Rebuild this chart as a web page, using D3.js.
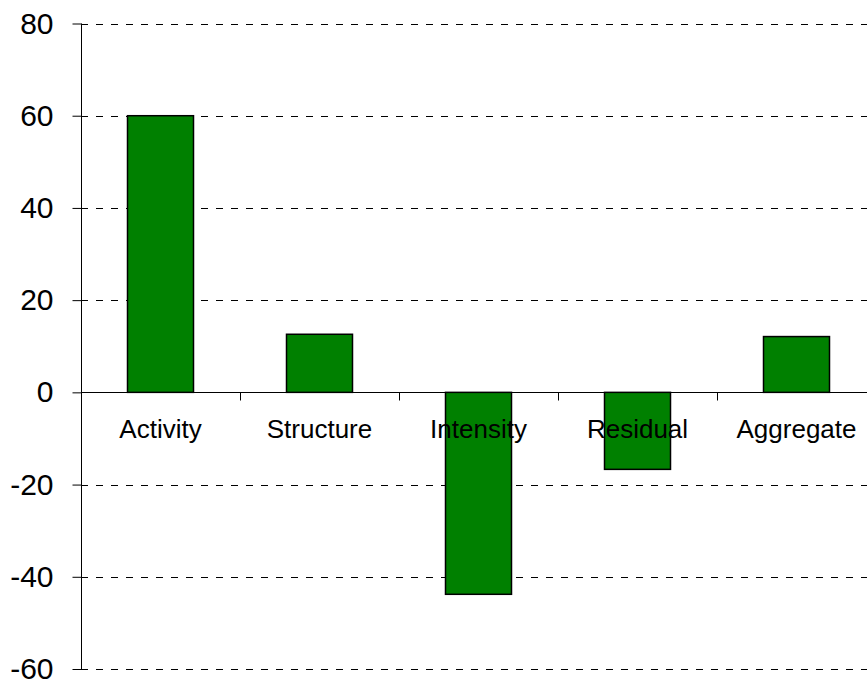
<!DOCTYPE html>
<html>
<head>
<meta charset="utf-8">
<script src="https://cdn.jsdelivr.net/npm/d3@7"></script>
<style>
  html, body { margin: 0; padding: 0; background: #fff; }
  svg { display: block; }
  text { font-family: "Liberation Sans", Arial, sans-serif; fill: #000; }
</style>
</head>
<body>
<svg id="chart" width="867" height="684"></svg>
<script>
// Decomposition components
const categories = ["Activity", "Structure", "Intensity", "Residual", "Aggregate"];
const values = [60, 12.6, -43.8, -16.7, 12.1];
const yTicks = [-60, -40, -20, 0, 20, 40, 60, 80];

const W = 867, H = 684;
const margin = { left: 81, top: 23.5, bottom: 15 };
const plotRight = 81 + 5 * 159; // plot area runs past the right edge

const svg = d3.select("#chart");

const x = d3.scaleBand()
  .domain(categories)
  .range([margin.left, plotRight])
  .paddingInner(0)
  .paddingOuter(0);

const y = d3.scaleLinear()
  .domain([-60, 80])
  .range([669, margin.top]);

// Dashed gridlines (zero line drawn solid as the category axis)
svg.append("g")
  .selectAll("line")
  .data(yTicks.filter(d => d !== 0))
  .join("line")
  .attr("x1", margin.left)
  .attr("x2", plotRight)
  .attr("y1", d => Math.round(y(d)) + 0.5)
  .attr("y2", d => Math.round(y(d)) + 0.5)
  .attr("stroke", "#000")
  .attr("stroke-width", 1)
  .attr("stroke-dasharray", "7,8");

// Bars
const barW = 66;
svg.append("g")
  .selectAll("rect")
  .data(categories.map((c, i) => ({ c, v: values[i] })))
  .join("rect")
  .attr("x", d => x(d.c) + (x.bandwidth() - barW) / 2)
  .attr("y", d => y(Math.max(0, d.v)))
  .attr("width", barW)
  .attr("height", d => Math.abs(y(d.v) - y(0)))
  .attr("fill", "#008000")
  .attr("stroke", "#000")
  .attr("stroke-width", 1.5);

// Y axis, plain hyphen for negatives
const yAxis = d3.axisLeft(y)
  .tickValues(yTicks)
  .tickSize(9)
  .tickPadding(19)
  .tickFormat(d => String(d));

const gy = svg.append("g")
  .attr("transform", `translate(${margin.left + 0.5},0)`)
  .call(yAxis);
gy.select(".domain").attr("stroke", "#000").attr("d", `M0,${y(80)}V${y(-60)}`);
gy.selectAll(".tick line").attr("stroke", "#000");
gy.selectAll(".tick text")
  .attr("font-size", 30)
  .attr("font-family", "Liberation Sans, Arial, sans-serif")
  .attr("fill", "#000");

// Category axis along zero
const gx = svg.append("g")
  .attr("transform", `translate(0,${Math.round(y(0)) + 0.5})`);
gx.append("line")
  .attr("x1", margin.left)
  .attr("x2", plotRight)
  .attr("stroke", "#000");
gx.selectAll("line.tick")
  .data(categories.slice(1))
  .join("line")
  .attr("class", "tick")
  .attr("x1", d => Math.round(x(d)) + 0.5)
  .attr("x2", d => Math.round(x(d)) + 0.5)
  .attr("y1", 0)
  .attr("y2", 8)
  .attr("stroke", "#000");
gx.selectAll("text")
  .data(categories)
  .join("text")
  .attr("x", d => x(d) + x.bandwidth() / 2)
  .attr("y", 45)
  .attr("text-anchor", "middle")
  .attr("font-size", 26)
  .text(d => d);
</script>
</body>
</html>
